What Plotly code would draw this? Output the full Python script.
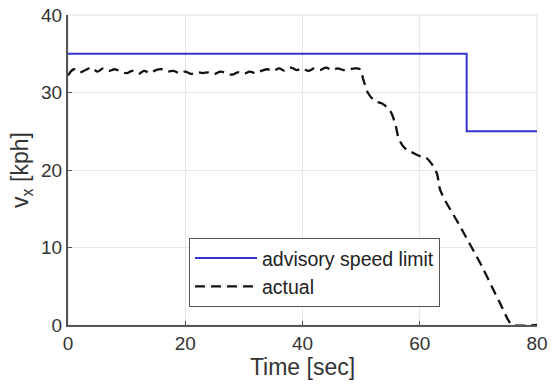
import plotly.graph_objects as go

# Advisory speed limit (step)
limit_t = [0, 68, 68, 80]
limit_v = [35, 35, 25, 25]

# Actual speed
actual_t = [0, 1, 2, 3, 4, 5, 6, 7, 8, 9, 10, 11, 12, 13, 14, 15, 16, 17, 18, 19,
            20, 21, 22, 23, 24, 25, 26, 27, 28, 29, 30, 31, 32, 33, 34, 35, 36, 37, 38, 39,
            40, 41, 42, 43, 44, 45, 46, 47, 48, 49, 49.8, 50.4, 51.2, 52.4, 53.5, 54.9,
            55.8, 56.5, 57.5, 58.9, 60.3, 61.2, 62.9, 63.5, 66.9, 70.3, 73.7, 75.4, 76, 80]
actual_v = [32.2, 33.0, 32.6, 32.9, 33.2, 32.7, 33.1, 32.8, 33.0, 32.7, 32.5, 32.8, 32.4, 32.8, 32.5,
            32.9, 33.0, 32.7, 32.8, 32.5, 32.7, 32.4, 32.6, 32.5, 32.6, 32.4, 32.7, 32.5, 32.3, 32.6,
            32.4, 32.7, 32.5, 32.8, 33.0, 32.8, 33.1, 32.8, 33.2, 32.9, 33.1, 32.8, 33.1, 32.9, 33.2,
            32.9, 33.1, 32.9, 33.0, 33.1, 33.0, 31.6, 29.9, 28.9, 28.6, 27.7,
            26.0, 23.9, 22.8, 22.2, 21.7, 21.5, 19.6, 17.4, 12.7, 8.0, 2.8, 0.3, 0.0, 0.0]

x_ticks = [0, 20, 40, 60, 80]
y_ticks = [0, 10, 20, 30, 40]

fig = go.Figure()
fig.add_trace(go.Scatter(x=limit_t, y=limit_v, mode="lines", name="advisory speed limit",
                         line=dict(color="#3434d0", width=2)))
fig.add_trace(go.Scatter(x=actual_t, y=actual_v, mode="lines", name="actual",
                         line=dict(color="#111111", width=2.3, dash="10px,6px"),
                         line_shape="spline"))

# light frame on top/right edges (grid lines at 40 and 80)
fig.add_shape(type="rect", xref="x domain", yref="y domain", x0=0, x1=1, y0=0, y1=1,
              line=dict(color="#e3e3e3", width=1), layer="below")

font = "Liberation Sans, Arial, sans-serif"
fig.update_layout(
    width=555, height=389,
    margin=dict(l=68, r=18, t=15, b=64),
    paper_bgcolor="white", plot_bgcolor="white",
    font=dict(family=font, size=19, color="#333333"),
    showlegend=True,
    legend=dict(x=0.258, y=0.281, xanchor="left", yanchor="top",
                bordercolor="#555555", borderwidth=1, bgcolor="white",
                font=dict(size=19.5, color="#222222"), itemwidth=62,
                tracegroupgap=0),
    xaxis=dict(range=[0, 80], tickvals=x_ticks, showgrid=True, gridcolor="#e6e6e6",
               zeroline=False, showline=True, linecolor="#555555", linewidth=2,
               ticks="inside", ticklen=4, tickcolor="#555555", mirror=False,
               automargin=False,
               title=dict(text="Time [sec]", standoff=6),
               tickfont=dict(size=19, color="#333333")),
    yaxis=dict(range=[0, 40], tickvals=y_ticks, showgrid=True, gridcolor="#e6e6e6",
               zeroline=False, showline=True, linecolor="#555555", linewidth=2,
               ticks="inside", ticklen=4, tickcolor="#555555",
               automargin=False,
               title=dict(text="v<sub>x</sub> [kph]", standoff=6),
               tickfont=dict(size=19, color="#333333")),
)
fig.write_html("out.html", config={"displayModeBar": False},
               post_script="document.body.style.margin='0';")
